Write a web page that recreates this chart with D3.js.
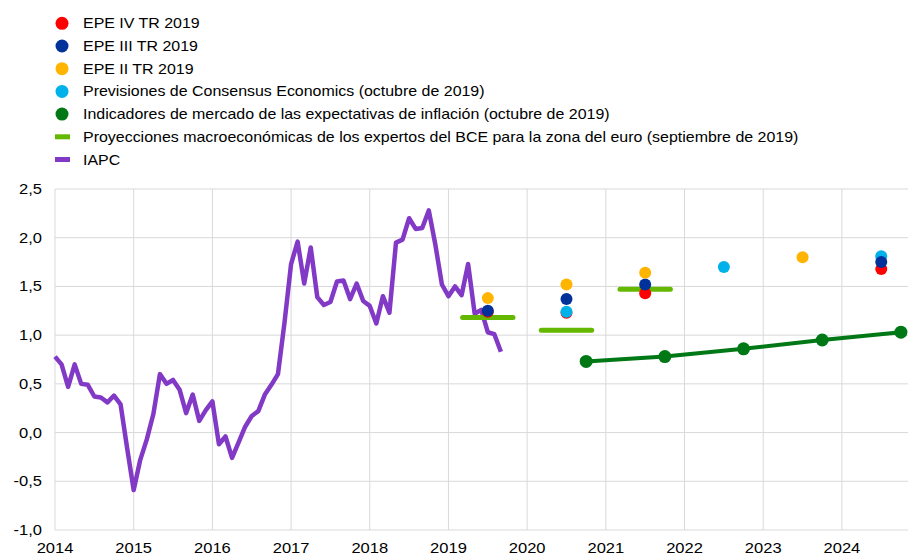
<!DOCTYPE html>
<meta charset="utf-8">
<html>
    <head>
        <script src="https://d3js.org/d3.v7.min.js"></script>
    </head>
    <style>
        body { margin: 0; background: #fff; }
        text { font-family: "Liberation Sans", Arial, sans-serif; fill: #000; }
    </style>
    <body>
        <div id="chart"></div>
        <script>

            // IAPC, tasa interanual mensual, ene 2014 - sep 2019
            var iapc = [
                0.78, 0.70, 0.47, 0.70, 0.50, 0.49, 0.37, 0.36, 0.31, 0.38, 0.29, -0.16,
                -0.59, -0.28, -0.07, 0.19, 0.60, 0.50, 0.54, 0.44, 0.20, 0.39, 0.12, 0.23,
                0.32, -0.12, -0.04, -0.26, -0.10, 0.06, 0.17, 0.22, 0.39, 0.49, 0.60, 1.13,
                1.73, 1.96, 1.53, 1.90, 1.39, 1.31, 1.34, 1.55, 1.56, 1.37, 1.53, 1.35,
                1.30, 1.12, 1.40, 1.23, 1.95, 1.98, 2.20, 2.09, 2.10, 2.28, 1.93, 1.52,
                1.40, 1.50, 1.41, 1.73, 1.22, 1.26, 1.03, 1.01, 0.83
            ];
            var iapcStart = 2014;

            // encuestas (mitad de cada año)
            var surveyYears = [2019.5, 2020.5, 2021.5, 2022.5, 2023.5, 2024.5];
            var epe4 = [1.24, 1.23, 1.43, null, null, 1.68];
            var consensus = [null, 1.24, null, 1.70, null, 1.81];
            var epe3 = [1.25, 1.37, 1.52, null, null, 1.75];
            var epe2 = [1.38, 1.52, 1.64, null, 1.80, null];

            // indicadores de mercado
            var marketYears = [2020.75, 2021.75, 2022.75, 2023.75, 2024.75];
            var market = [0.73, 0.78, 0.86, 0.95, 1.03];

            // proyecciones BCE
            var projYears = [2019, 2020, 2021];
            var proj = [1.18, 1.05, 1.47];

            var yTicks = [-1.0, -0.5, 0.0, 0.5, 1.0, 1.5, 2.0, 2.5];
            var xTicks = [2014, 2015, 2016, 2017, 2018, 2019, 2020, 2021, 2022, 2023, 2024];

            var legendItems = [
                { label: "EPE IV TR 2019", type: "dot", color: "#ff0000" },
                { label: "EPE III TR 2019", type: "dot", color: "#003299" },
                { label: "EPE II TR 2019", type: "dot", color: "#ffb400" },
                { label: "Previsiones de Consensus Economics (octubre de 2019)", type: "dot", color: "#00b1ea" },
                { label: "Indicadores de mercado de las expectativas de inflación (octubre de 2019)", type: "dot", color: "#007816" },
                { label: "Proyecciones macroeconómicas de los expertos del BCE para la zona del euro (septiembre de 2019)", type: "line", color: "#65b800" },
                { label: "IAPC", type: "line", color: "#8139c6" }
            ];

            var width = 908, height = 556;

            var svg = d3.select("#chart")
                .append("svg")
                .attr("width", width)
                .attr("height", height);

            var x = d3.scaleLinear().domain([2014, 2024.84]).range([55, 908]);
            var y = d3.scaleLinear().domain([-1, 2.5]).range([530, 189]);

            var fmt = d => d3.format(".1f")(d).replace(".", ",").replace("−", "-");

            // rejilla
            svg.append("g")
                .selectAll("line")
                .data(yTicks)
                .join("line")
                .attr("x1", 55).attr("x2", width)
                .attr("y1", d => y(d)).attr("y2", d => y(d))
                .attr("stroke", "#d9d9d9").attr("stroke-width", 1);

            svg.append("g")
                .selectAll("line")
                .data(xTicks)
                .join("line")
                .attr("x1", d => x(d)).attr("x2", d => x(d))
                .attr("y1", y(2.5)).attr("y2", y(-1))
                .attr("stroke", "#d9d9d9").attr("stroke-width", 1);

            // etiquetas de ejes
            svg.append("g")
                .attr("font-size", 14)
                .attr("text-anchor", "end")
                .selectAll("text")
                .data(yTicks)
                .join("text")
                .attr("transform", d => `translate(42,${y(d) + 5}) scale(1.18,1)`)
                .text(fmt);

            svg.append("g")
                .attr("font-size", 14)
                .attr("text-anchor", "middle")
                .selectAll("text")
                .data(xTicks)
                .join("text")
                .attr("transform", d => `translate(${x(d)},${553}) scale(1.18,1)`)
                .text(d => d);

            // IAPC
            var iapcData = iapc.map((v, i) => [iapcStart + i / 12, v]);
            svg.append("path")
                .datum(iapcData)
                .attr("fill", "none")
                .attr("stroke", "#8139c6")
                .attr("stroke-width", 4.5)
                .attr("stroke-linejoin", "round")
                .attr("d", d3.line().x(d => x(d[0])).y(d => y(d[1])));

            // proyecciones BCE
            svg.append("g")
                .selectAll("line")
                .data(projYears)
                .join("line")
                .attr("x1", d => x(d + 0.18)).attr("x2", d => x(d + 0.82))
                .attr("y1", (d, i) => y(proj[i])).attr("y2", (d, i) => y(proj[i]))
                .attr("stroke", "#65b800")
                .attr("stroke-width", 5)
                .attr("stroke-linecap", "round");

            // indicadores de mercado
            var marketData = marketYears.map((t, i) => [t, market[i]]);
            svg.append("path")
                .datum(marketData)
                .attr("fill", "none")
                .attr("stroke", "#007816")
                .attr("stroke-width", 4)
                .attr("d", d3.line().x(d => x(d[0])).y(d => y(d[1])));
            svg.append("g")
                .selectAll("circle")
                .data(marketData)
                .join("circle")
                .attr("cx", d => x(d[0])).attr("cy", d => y(d[1]))
                .attr("r", 6.5)
                .attr("fill", "#007816");

            // encuestas
            var surveys = [
                { values: epe4, color: "#ff0000" },
                { values: consensus, color: "#00b1ea" },
                { values: epe3, color: "#003299" },
                { values: epe2, color: "#ffb400" }
            ];
            surveys.forEach(s => {
                svg.append("g")
                    .selectAll("circle")
                    .data(surveyYears.map((t, i) => [t, s.values[i]]).filter(d => d[1] != null))
                    .join("circle")
                    .attr("cx", d => x(d[0])).attr("cy", d => y(d[1]))
                    .attr("r", 6)
                    .attr("fill", s.color);
            });

            // leyenda
            var legend = svg.append("g")
                .selectAll("g")
                .data(legendItems)
                .join("g")
                .attr("transform", (d, i) => `translate(0,${23.3 + i * 22.7})`);

            legend.filter(d => d.type == "dot")
                .append("circle")
                .attr("cx", 62).attr("cy", 0).attr("r", 6.5)
                .attr("fill", d => d.color);

            legend.filter(d => d.type == "line")
                .append("rect")
                .attr("x", 55).attr("y", -2.5)
                .attr("width", 15).attr("height", 5)
                .attr("fill", d => d.color);

            legend.append("text")
                .attr("font-size", 14)
                .attr("transform", "translate(83,5) scale(1.14,1)")
                .text(d => d.label);

        </script>
    </body>
</html>
